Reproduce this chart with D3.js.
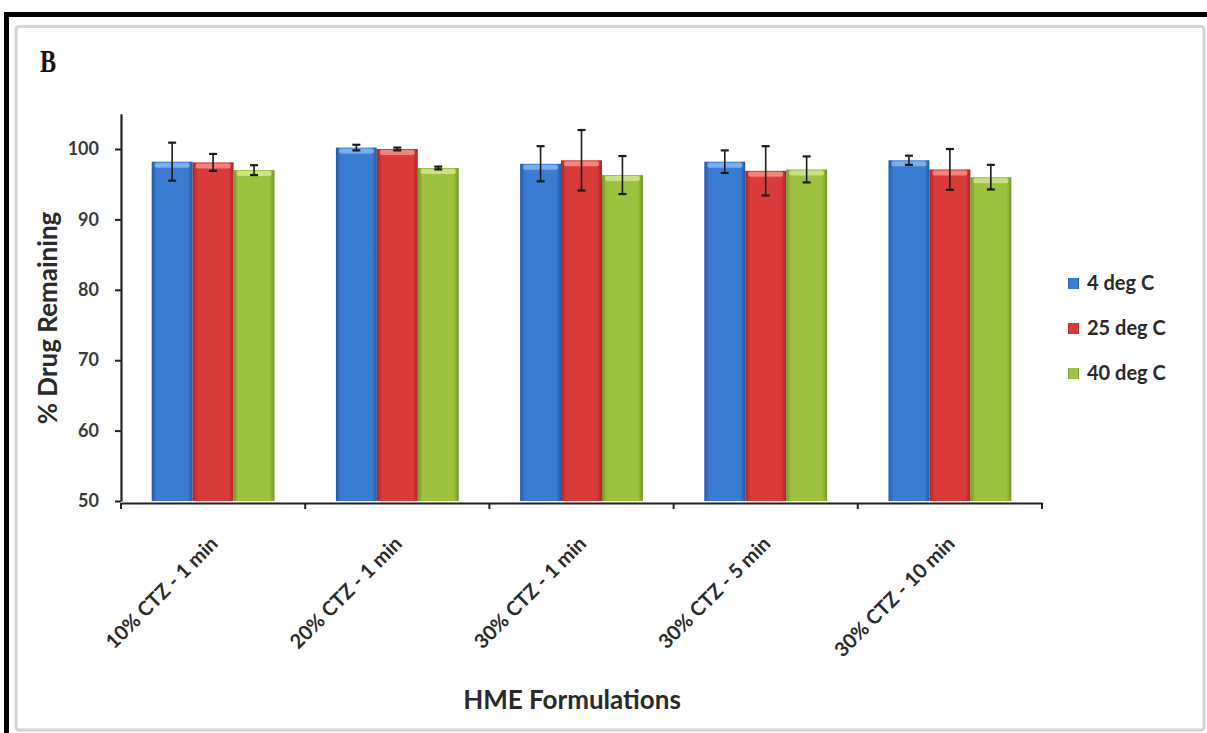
<!DOCTYPE html>
<html>
<head>
<meta charset="utf-8">
<script src="https://cdn.jsdelivr.net/npm/d3@7"></script>
<style>
  html, body { margin: 0; padding: 0; background: #fff; }
  svg { display: block; }
  text { font-family: Lato, "Open Sans", sans-serif; }
</style>
</head>
<body>
<svg id="chart" width="1207" height="733"></svg>
<script>
// Formulations on the category axis
const categories = ["10% CTZ - 1 min", "20% CTZ - 1 min", "30% CTZ - 1 min", "30% CTZ - 5 min", "30% CTZ - 10 min"];
// Storage temperatures (series)
const seriesNames = ["4 deg C", "25 deg C", "40 deg C"];
// Mean % drug remaining per formulation
const values4C  = [98.2, 100.2, 97.9, 98.2, 98.4];
const values25C = [98.1, 100.0, 98.4, 96.9, 97.1];
const values40C = [97.0, 97.3, 96.3, 97.1, 96.0];
// Error (± SD) per formulation
const err4C  = [2.7, 0.4, 2.5, 1.6, 0.65];
const err25C = [1.2, 0.2, 4.3, 3.5, 2.9];
const err40C = [0.7, 0.2, 2.7, 1.85, 1.75];
// Y-axis ticks
const yTicks = [50, 60, 70, 80, 90, 100];

const seriesValues = [values4C, values25C, values40C];
const seriesErrors = [err4C, err25C, err40C];
const colors = [
  { base: "#3b7cd3", dark: "#2558a8", light: "#86b8f0" },
  { base: "#d93a3a", dark: "#a82424", light: "#f3928c" },
  { base: "#9cc23e", dark: "#73952a", light: "#cfe691" }
];

const rows = [];
categories.forEach((c, i) => {
  seriesNames.forEach((s, j) => {
    rows.push({ cat: c, series: s, si: j, value: seriesValues[j][i], err: seriesErrors[j][i] });
  });
});

const svg = d3.select("#chart");

// Outer frame
svg.append("line").attr("x1", 4).attr("x2", 1207).attr("y1", 14.5).attr("y2", 14.5)
  .attr("stroke", "#000").attr("stroke-width", 5);
svg.append("line").attr("x1", 6.5).attr("x2", 6.5).attr("y1", 12).attr("y2", 733)
  .attr("stroke", "#000").attr("stroke-width", 5);
// Inner chart-area border
svg.append("rect").attr("x", 16).attr("y", 26.5).attr("width", 1188).attr("height", 703.5)
  .attr("fill", "#fff").attr("stroke", "#d4d4d4").attr("stroke-width", 3).attr("rx", 3);

// Panel letter
svg.append("text").attr("transform", "translate(40,72) scale(0.78,1)")
  .style("font-family", "'Liberation Serif', 'DejaVu Serif', serif")
  .style("font-weight", "bold").style("font-size", "31px").attr("fill", "#111")
  .text("B");

// Gradients for a rounded, shaded bar look
const defs = svg.append("defs");
colors.forEach((c, j) => {
  const g = defs.append("linearGradient").attr("id", "grad" + j)
    .attr("x1", "0%").attr("x2", "100%").attr("y1", "0%").attr("y2", "0%");
  g.append("stop").attr("offset", "0%").attr("stop-color", c.dark);
  g.append("stop").attr("offset", "12%").attr("stop-color", c.base);
  g.append("stop").attr("offset", "88%").attr("stop-color", c.base);
  g.append("stop").attr("offset", "100%").attr("stop-color", c.dark);
});

const x0 = d3.scaleBand().domain(categories).range([121, 1042]).paddingInner(0).paddingOuter(0);
const x1 = d3.scaleBand().domain(seriesNames).range([0, x0.bandwidth()]).paddingInner(0).paddingOuter(0.75);
const y = d3.scaleLinear().domain([50, 105]).range([501, 113.8]);

// Bars
const bars = svg.append("g");
bars.selectAll("rect.bar").data(rows).join("rect")
  .attr("class", "bar")
  .attr("x", d => x0(d.cat) + x1(d.series))
  .attr("y", d => y(d.value))
  .attr("width", x1.bandwidth())
  .attr("height", d => y(50) - y(d.value))
  .attr("fill", d => `url(#grad${d.si})`);
// Top highlight of each bar
bars.selectAll("rect.hl").data(rows).join("rect")
  .attr("class", "hl")
  .attr("x", d => x0(d.cat) + x1(d.series) + 3)
  .attr("y", d => y(d.value) + 1)
  .attr("width", x1.bandwidth() - 6)
  .attr("height", 5)
  .attr("rx", 2)
  .attr("fill", d => colors[d.si].light)
  .attr("opacity", 0.85);

// Error bars
const eb = svg.append("g").attr("stroke", "#1a1a1a").attr("stroke-width", 1.6);
rows.forEach(d => {
  const cx = x0(d.cat) + x1(d.series) + x1.bandwidth() / 2;
  const yt = y(d.value + d.err), yb = y(d.value - d.err);
  eb.append("line").attr("x1", cx).attr("x2", cx).attr("y1", yt).attr("y2", yb);
  eb.append("line").attr("x1", cx - 4).attr("x2", cx + 4).attr("y1", yt).attr("y2", yt).attr("stroke-width", 2.2);
  eb.append("line").attr("x1", cx - 4).attr("x2", cx + 4).attr("y1", yb).attr("y2", yb).attr("stroke-width", 2.2);
});

// Y axis
const yAxis = svg.append("g").attr("transform", "translate(121,0)")
  .call(d3.axisLeft(y).tickValues(yTicks).tickSize(6).tickSizeOuter(0).tickPadding(16));
yAxis.select(".domain").attr("stroke", "#222").attr("stroke-width", 2.2);
yAxis.selectAll(".tick line").attr("stroke", "#222").attr("stroke-width", 2);
yAxis.selectAll(".tick text").style("font-size", "18px").style("font-weight", "bold")
  .attr("fill", "#3a3a3a").style("font-family", "Lato, sans-serif");

// X axis
const xAxis = svg.append("g").attr("transform", `translate(0,${y(50) + 2})`)
  .call(d3.axisBottom(x0).tickSize(0).tickFormat(""));
xAxis.select(".domain").attr("stroke", "#222").attr("stroke-width", 2.2);
const bounds = categories.map(c => x0(c)).concat([x0.range()[1]]);
xAxis.selectAll("line.bound").data(bounds).join("line").attr("class", "bound")
  .attr("x1", d => d).attr("x2", d => d).attr("y1", 0).attr("y2", 6)
  .attr("stroke", "#222").attr("stroke-width", 2);

// Rotated category labels
svg.append("g").selectAll("text").data(categories).join("text")
  .attr("transform", d => `translate(${x0(d) + x0.bandwidth() / 2 + 6},${y(50) + 44}) rotate(-45)`)
  .attr("text-anchor", "end")
  .style("font-size", "20px").style("font-weight", "bold").attr("fill", "#2a2a2a")
  .text(d => d);

// Axis titles
svg.append("text").attr("x", 572).attr("y", 709).attr("text-anchor", "middle")
  .style("font-size", "26px").style("font-weight", "bold").attr("fill", "#2a2a2a")
  .text("HME Formulations");
svg.append("text").attr("transform", "translate(57,318) rotate(-90)").attr("text-anchor", "middle")
  .style("font-size", "26px").style("font-weight", "bold").attr("fill", "#2a2a2a")
  .text("% Drug Remaining");

// Legend
const legend = svg.append("g").attr("transform", "translate(1068,278)");
seriesNames.forEach((s, j) => {
  const g = legend.append("g").attr("transform", `translate(0,${j * 45})`);
  g.append("rect").attr("x", 0).attr("y", 0).attr("width", 11).attr("height", 11)
    .attr("fill", `url(#grad${j})`);
  g.append("text").attr("x", 19).attr("y", 12).style("font-size", "20px")
    .style("font-weight", "bold").attr("fill", "#2a2a2a").text(s);
});
</script>
</body>
</html>
